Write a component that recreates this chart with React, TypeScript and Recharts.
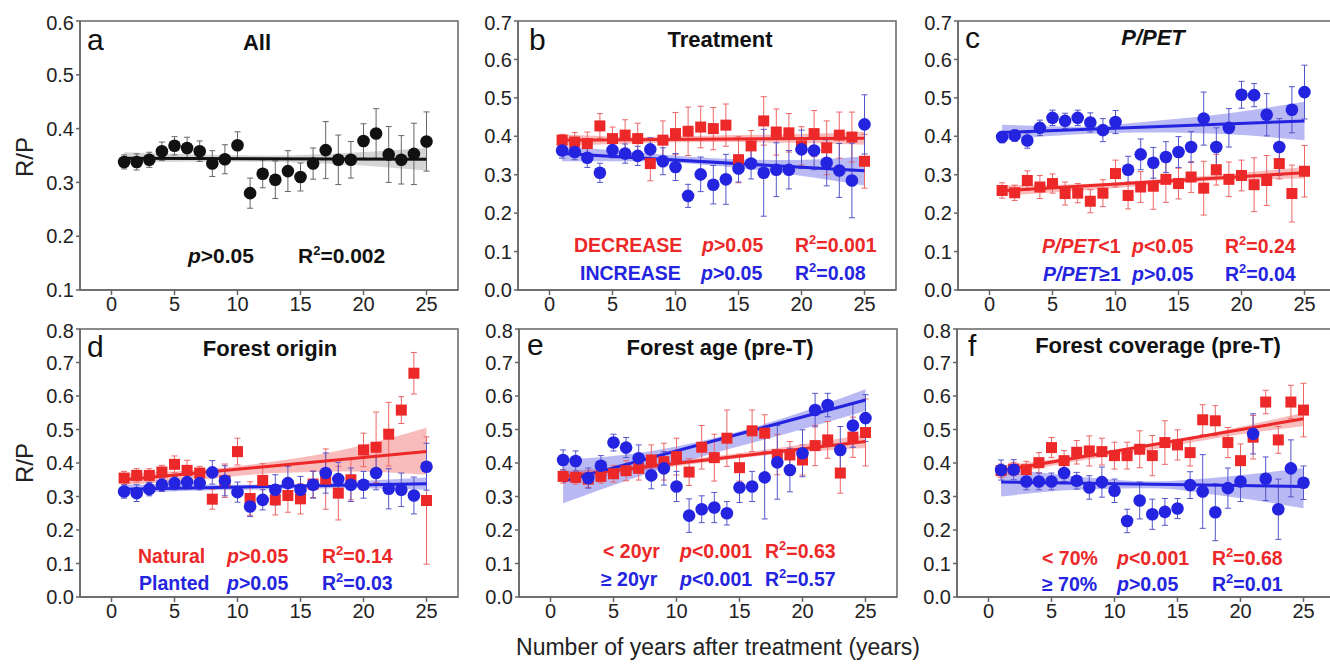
import {
  ComposedChart,
  Scatter,
  Line,
  Area,
  XAxis,
  YAxis,
  ErrorBar,
  ReferenceArea,
} from "recharts";

// years after treatment
const years = [1, 2, 3, 4, 5, 6, 7, 8, 9, 10, 11, 12, 13, 14, 15, 16, 17, 18, 19, 20, 21, 22, 23, 24, 25];
const xTicks = [0, 5, 10, 15, 20, 25];
const fitX = [1, 25];
const bandX = [1, 7, 13, 19, 25];

// a: All
const allMean = [0.338, 0.338, 0.342, 0.358, 0.368, 0.364, 0.358, 0.335, 0.343, 0.369, 0.28, 0.316, 0.305, 0.321, 0.31, 0.335, 0.36, 0.342, 0.342, 0.377, 0.391, 0.352, 0.342, 0.353, 0.376];
const allErr = [0.013, 0.015, 0.014, 0.017, 0.017, 0.02, 0.019, 0.024, 0.027, 0.025, 0.028, 0.026, 0.035, 0.038, 0.026, 0.029, 0.053, 0.046, 0.034, 0.032, 0.046, 0.052, 0.045, 0.057, 0.055];
const allFit = [0.345, 0.343];
const allLo = [0.336, 0.339, 0.338, 0.333, 0.322];
const allHi = [0.356, 0.352, 0.35, 0.355, 0.364];

// b: Treatment
const decMean = [0.39, 0.385, 0.381, 0.427, 0.394, 0.403, 0.394, 0.329, 0.39, 0.407, 0.413, 0.424, 0.42, 0.429, 0.339, 0.375, 0.44, 0.411, 0.409, 0.375, 0.407, 0.37, 0.403, 0.398, 0.335];
const decErr = [0.015, 0.025, 0.03, 0.032, 0.03, 0.04, 0.04, 0.045, 0.05, 0.055, 0.063, 0.054, 0.055, 0.055, 0.06, 0.04, 0.063, 0.06, 0.05, 0.05, 0.06, 0.07, 0.06, 0.065, 0.07];
const decFit = [0.39, 0.395];
const decLo = [0.375, 0.382, 0.385, 0.383, 0.378];
const decHi = [0.405, 0.398, 0.402, 0.405, 0.412];
const incMean = [0.363, 0.359, 0.344, 0.305, 0.364, 0.355, 0.349, 0.366, 0.335, 0.32, 0.245, 0.301, 0.274, 0.288, 0.316, 0.329, 0.305, 0.313, 0.313, 0.366, 0.363, 0.331, 0.311, 0.285, 0.431];
const incErr = [0.02, 0.02, 0.025, 0.025, 0.02, 0.025, 0.025, 0.03, 0.035, 0.035, 0.03, 0.045, 0.05, 0.065, 0.035, 0.04, 0.113, 0.07, 0.05, 0.05, 0.05, 0.06, 0.07, 0.097, 0.077];
const incFit = [0.355, 0.31];
const incLo = [0.335, 0.335, 0.324, 0.302, 0.272];
const incHi = [0.375, 0.358, 0.343, 0.338, 0.348];

// c: P/PET
const petLowMean = [0.259, 0.253, 0.285, 0.268, 0.277, 0.251, 0.252, 0.231, 0.252, 0.303, 0.246, 0.268, 0.27, 0.288, 0.277, 0.294, 0.265, 0.313, 0.288, 0.298, 0.274, 0.285, 0.329, 0.251, 0.309];
const petLowErr = [0.02, 0.02, 0.025, 0.03, 0.025, 0.03, 0.025, 0.03, 0.035, 0.035, 0.035, 0.04, 0.06, 0.06, 0.04, 0.04, 0.07, 0.04, 0.045, 0.04, 0.07, 0.065, 0.04, 0.074, 0.067];
const petLowFit = [0.258, 0.305];
const petLowLo = [0.245, 0.258, 0.273, 0.286, 0.29];
const petLowHi = [0.272, 0.275, 0.287, 0.302, 0.32];
const petHighMean = [0.398, 0.402, 0.389, 0.422, 0.448, 0.44, 0.448, 0.436, 0.416, 0.437, 0.313, 0.353, 0.331, 0.346, 0.359, 0.372, 0.446, 0.372, 0.422, 0.508, 0.507, 0.456, 0.372, 0.469, 0.515];
const petHighErr = [0.015, 0.015, 0.02, 0.02, 0.02, 0.02, 0.02, 0.025, 0.03, 0.03, 0.035, 0.04, 0.04, 0.04, 0.04, 0.04, 0.069, 0.05, 0.05, 0.035, 0.03, 0.055, 0.074, 0.06, 0.07];
const petHighFit = [0.41, 0.44];
const petHighLo = [0.39, 0.405, 0.41, 0.405, 0.39];
const petHighHi = [0.43, 0.425, 0.44, 0.46, 0.49];

// d: Forest origin
const natMean = [0.355, 0.363, 0.363, 0.373, 0.396, 0.378, 0.37, 0.292, 0.347, 0.434, 0.294, 0.348, 0.29, 0.303, 0.293, 0.337, 0.352, 0.31, 0.35, 0.439, 0.447, 0.486, 0.558, 0.668, 0.288];
const natErr = [0.02, 0.02, 0.02, 0.02, 0.025, 0.03, 0.02, 0.03, 0.05, 0.04, 0.05, 0.05, 0.045, 0.05, 0.045, 0.04, 0.09, 0.08, 0.06, 0.05, 0.105, 0.095, 0.04, 0.062, 0.19];
const natFit = [0.35, 0.434];
const natLo = [0.335, 0.35, 0.37, 0.375, 0.365];
const natHi = [0.37, 0.38, 0.405, 0.445, 0.505];
const plaMean = [0.315, 0.31, 0.322, 0.335, 0.34, 0.343, 0.34, 0.372, 0.347, 0.313, 0.27, 0.29, 0.32, 0.34, 0.32, 0.335, 0.37, 0.352, 0.335, 0.335, 0.37, 0.323, 0.32, 0.303, 0.389];
const plaErr = [0.02, 0.025, 0.02, 0.02, 0.02, 0.02, 0.02, 0.035, 0.045, 0.03, 0.03, 0.03, 0.045, 0.05, 0.04, 0.04, 0.06, 0.05, 0.05, 0.04, 0.05, 0.06, 0.05, 0.055, 0.07];
const plaFit = [0.322, 0.338];
const plaLo = [0.31, 0.318, 0.322, 0.325, 0.32];
const plaHi = [0.335, 0.335, 0.335, 0.345, 0.357];

// e: Forest age (pre-T)
const youngMean = [0.36, 0.357, 0.352, 0.36, 0.368, 0.377, 0.384, 0.409, 0.404, 0.419, 0.373, 0.447, 0.416, 0.474, 0.386, 0.496, 0.489, 0.425, 0.424, 0.409, 0.452, 0.469, 0.37, 0.477, 0.491];
const youngErr = [0.02, 0.02, 0.025, 0.02, 0.025, 0.03, 0.035, 0.045, 0.055, 0.055, 0.04, 0.065, 0.07, 0.084, 0.04, 0.062, 0.055, 0.06, 0.04, 0.045, 0.06, 0.055, 0.06, 0.06, 0.1];
const youngFit = [0.36, 0.464];
const youngLo = [0.345, 0.375, 0.405, 0.43, 0.445];
const youngHi = [0.375, 0.395, 0.42, 0.45, 0.485];
const oldMean = [0.409, 0.406, 0.355, 0.392, 0.461, 0.446, 0.414, 0.363, 0.384, 0.33, 0.243, 0.262, 0.267, 0.25, 0.327, 0.33, 0.357, 0.402, 0.379, 0.429, 0.558, 0.573, 0.439, 0.512, 0.534];
const oldErr = [0.03, 0.03, 0.03, 0.03, 0.025, 0.03, 0.04, 0.04, 0.05, 0.045, 0.05, 0.04, 0.045, 0.035, 0.045, 0.045, 0.124, 0.11, 0.065, 0.07, 0.05, 0.035, 0.07, 0.065, 0.07];
const oldFit = [0.345, 0.588];
const oldLo = [0.28, 0.36, 0.43, 0.49, 0.555];
const oldHi = [0.41, 0.43, 0.475, 0.54, 0.62];

// f: Forest coverage (pre-T)
const lowCovMean = [0.377, 0.382, 0.38, 0.401, 0.446, 0.407, 0.432, 0.436, 0.434, 0.422, 0.422, 0.441, 0.422, 0.461, 0.454, 0.431, 0.529, 0.526, 0.461, 0.407, 0.477, 0.582, 0.469, 0.582, 0.558];
const lowCovErr = [0.02, 0.02, 0.025, 0.03, 0.03, 0.03, 0.035, 0.045, 0.04, 0.04, 0.04, 0.055, 0.06, 0.065, 0.045, 0.04, 0.045, 0.045, 0.045, 0.05, 0.065, 0.035, 0.04, 0.05, 0.08];
const lowCovFit = [0.377, 0.532];
const lowCovLo = [0.362, 0.405, 0.44, 0.48, 0.51];
const lowCovHi = [0.392, 0.42, 0.455, 0.5, 0.55];
const highCovMean = [0.379, 0.38, 0.345, 0.345, 0.345, 0.37, 0.347, 0.327, 0.343, 0.317, 0.227, 0.288, 0.247, 0.254, 0.264, 0.334, 0.315, 0.253, 0.325, 0.345, 0.487, 0.353, 0.262, 0.384, 0.341];
const highCovErr = [0.03, 0.03, 0.025, 0.025, 0.025, 0.025, 0.025, 0.035, 0.045, 0.035, 0.035, 0.055, 0.045, 0.04, 0.03, 0.04, 0.11, 0.085, 0.06, 0.06, 0.06, 0.065, 0.09, 0.085, 0.05];
const highCovFit = [0.343, 0.33];
const highCovLo = [0.3, 0.32, 0.325, 0.3, 0.265];
const highCovHi = [0.385, 0.36, 0.345, 0.36, 0.385];

const RED = "#ec2828";
const BLUE = "#2424e0";
const FONT = "'Liberation Sans', Arial, sans-serif";

const pts = (vals: number[], errs: number[]) => years.map((x, i) => ({ x, y: vals[i], e: errs[i] }));
const band = (lo: number[], hi: number[]) => bandX.map((x, i) => ({ x, r: [lo[i], hi[i]] }));
const fit = (ends: number[]) => fitX.map((x, i) => ({ x, f: ends[i] }));

interface Group {
  color: string;
  errColor: string;
  bandFill: string;
  shape: "circle" | "square";
  points: { x: number; y: number; e: number }[];
  band: { x: number; r: number[] }[];
  fit: { x: number; f: number }[];
}

const grp = (
  color: string, errColor: string, bandFill: string, shape: "circle" | "square",
  mean: number[], err: number[], fitEnds: number[], lo: number[], hi: number[]
): Group => ({ color, errColor, bandFill, shape, points: pts(mean, err), band: band(lo, hi), fit: fit(fitEnds) });

const redGrp = (m: number[], e: number[], f: number[], lo: number[], hi: number[]) =>
  grp(RED, "#e66", "rgba(240,80,80,0.38)", "square", m, e, f, lo, hi);
const blueGrp = (m: number[], e: number[], f: number[], lo: number[], hi: number[]) =>
  grp(BLUE, "#55c", "rgba(70,70,225,0.38)", "circle", m, e, f, lo, hi);

const tickStyle = { fill: "#222", fontSize: 20, fontFamily: FONT };

function Panel({ left, top, h, domain, ticks, groups }: {
  left: number; top: number; h: number; domain: [number, number]; ticks: number[]; groups: Group[];
}) {
  return (
    <div style={{ position: "absolute", left: left - 60, top: top - 10 }}>
      <ComposedChart width={448} height={h + 10 + 36} margin={{ top: 10, right: 10, bottom: 0, left: 0 }}>
        <XAxis type="number" dataKey="x" domain={[-2.5, 27.5]} ticks={xTicks} allowDataOverflow
          height={36} tickSize={5} stroke="#666" strokeWidth={1.5} tick={tickStyle} />
        <YAxis type="number" domain={domain} ticks={ticks} allowDataOverflow width={60} tickSize={4}
          stroke="#666" strokeWidth={1.5} tick={tickStyle} tickFormatter={(v: number) => v.toFixed(1)} />
        {groups.map((g, i) => (
          <Scatter key={"s" + i} data={g.points} dataKey="y" isAnimationActive={false}
            shape={(p: any) => g.shape === "circle"
              ? <circle cx={p.cx} cy={p.cy} r={6.3} fill={g.color} />
              : <rect x={p.cx - 5.5} y={p.cy - 5.5} width={11} height={11} fill={g.color} />}>
            <ErrorBar dataKey="e" direction="y" width={3} stroke={g.errColor} strokeWidth={1} />
          </Scatter>
        ))}
        {groups.map((g, i) => (
          <Area key={"a" + i} data={g.band} dataKey="r" type="monotone" fill={g.bandFill} fillOpacity={1}
            stroke="none" isAnimationActive={false} activeDot={false} />
        ))}
        {groups.map((g, i) => (
          <Line key={"l" + i} data={g.fit} dataKey="f" stroke={g.color} strokeWidth={3} dot={false}
            activeDot={false} isAnimationActive={false} />
        ))}
        <ReferenceArea x1={-2.5} x2={27.5} y1={domain[0]} y2={domain[1]} fill="none" fillOpacity={0}
          stroke="#666" strokeWidth={1.5} />
      </ComposedChart>
    </div>
  );
}

function R2({ x, y, v }: { x: number; y: number; v: string }) {
  return (
    <text x={x} y={y}>
      R<tspan dy={-8} fontSize={13}>2</tspan><tspan dy={8}>={v}</tspan>
    </text>
  );
}

function Stat({ x, y, p }: { x: number; y: number; p: string }) {
  return (
    <text x={x} y={y}>
      <tspan fontStyle="italic">p</tspan>{p}
    </text>
  );
}

export default function App() {
  const row1 = [0.0, 0.1, 0.2, 0.3, 0.4, 0.5, 0.6, 0.7];
  const row2 = [0.0, 0.1, 0.2, 0.3, 0.4, 0.5, 0.6, 0.7, 0.8];
  return (
    <div style={{ position: "relative", width: 1330, height: 669, overflow: "hidden", background: "#fff", fontFamily: FONT }}>
      <style>{"body{margin:0}"}</style>
      <Panel left={80} top={21} h={269} domain={[0.1, 0.6]} ticks={[0.1, 0.2, 0.3, 0.4, 0.5, 0.6]}
        groups={[grp("#111", "#666", "rgba(150,150,150,0.4)", "circle", allMean, allErr, allFit, allLo, allHi)]} />
      <Panel left={518} top={21} h={269} domain={[0, 0.7]} ticks={row1}
        groups={[redGrp(decMean, decErr, decFit, decLo, decHi), blueGrp(incMean, incErr, incFit, incLo, incHi)]} />
      <Panel left={958} top={21} h={269} domain={[0, 0.7]} ticks={row1}
        groups={[redGrp(petLowMean, petLowErr, petLowFit, petLowLo, petLowHi), blueGrp(petHighMean, petHighErr, petHighFit, petHighLo, petHighHi)]} />
      <Panel left={80} top={329} h={268} domain={[0, 0.8]} ticks={row2}
        groups={[redGrp(natMean, natErr, natFit, natLo, natHi), blueGrp(plaMean, plaErr, plaFit, plaLo, plaHi)]} />
      <Panel left={519} top={329} h={268} domain={[0, 0.8]} ticks={row2}
        groups={[redGrp(youngMean, youngErr, youngFit, youngLo, youngHi), blueGrp(oldMean, oldErr, oldFit, oldLo, oldHi)]} />
      <Panel left={957} top={329} h={268} domain={[0, 0.8]} ticks={row2}
        groups={[redGrp(lowCovMean, lowCovErr, lowCovFit, lowCovLo, lowCovHi), blueGrp(highCovMean, highCovErr, highCovFit, highCovLo, highCovHi)]} />

      <svg width={1330} height={669} style={{ position: "absolute", left: 0, top: 0, pointerEvents: "none" }} fontFamily={FONT}>
        {/* panel letters */}
        <g fontSize={30} fill="#111">
          <text x={87} y={50}>a</text>
          <text x={529} y={50}>b</text>
          <text x={965} y={48}>c</text>
          <text x={87} y={357}>d</text>
          <text x={527} y={355}>e</text>
          <text x={968} y={356}>f</text>
        </g>
        {/* titles */}
        <g fontSize={22} fontWeight="bold" fill="#111" textAnchor="middle">
          <text x={257} y={50}>All</text>
          <text x={720} y={47}>Treatment</text>
          <text x={1153} y={45} fontStyle="italic">P/PET</text>
          <text x={270} y={356}>Forest origin</text>
          <text x={720} y={355}>Forest age (pre-T)</text>
          <text x={1158} y={353}>Forest coverage (pre-T)</text>
        </g>
        {/* axis titles */}
        <text x={0} y={0} fontSize={24} fill="#222" textAnchor="middle" transform="translate(33,157) rotate(-90)">R/P</text>
        <text x={0} y={0} fontSize={24} fill="#222" textAnchor="middle" transform="translate(33,463) rotate(-90)">R/P</text>
        <text x={718} y={655} fontSize={23} fill="#222" textAnchor="middle">Number of years after treatment (years)</text>

        {/* statistics */}
        <g fontSize={21} fontWeight="bold" fill="#111">
          <Stat x={188} y={263} p=">0.05" />
          <R2 x={298} y={263} v="0.002" />
        </g>
        <g fontSize={19.5} fontWeight="bold">
          <g fill={RED}>
            <text x={574} y={252}>DECREASE</text>
            <Stat x={702} y={252} p=">0.05" />
            <R2 x={795} y={252} v="0.001" />
            <text x={1042} y={253}><tspan fontStyle="italic">P/PET</tspan>&lt;1</text>
            <Stat x={1132} y={253} p="<0.05" />
            <R2 x={1225} y={253} v="0.24" />
            <text x={138} y={563}>Natural</text>
            <Stat x={227} y={563} p=">0.05" />
            <R2 x={322} y={563} v="0.14" />
            <text x={603} y={558}>&lt; 20yr</text>
            <Stat x={680} y={558} p="<0.001" />
            <R2 x={765} y={558} v="0.63" />
            <text x={1042} y={565}>&lt; 70%</text>
            <Stat x={1117} y={565} p="<0.001" />
            <R2 x={1212} y={565} v="0.68" />
          </g>
          <g fill={BLUE}>
            <text x={580} y={280}>INCREASE</text>
            <Stat x={701} y={280} p=">0.05" />
            <R2 x={795} y={280} v="0.08" />
            <text x={1043} y={281}><tspan fontStyle="italic">P/PET</tspan>≥1</text>
            <Stat x={1132} y={281} p=">0.05" />
            <R2 x={1225} y={281} v="0.04" />
            <text x={139} y={590}>Planted</text>
            <Stat x={227} y={590} p=">0.05" />
            <R2 x={322} y={590} v="0.03" />
            <text x={601} y={586}>≥ 20yr</text>
            <Stat x={680} y={586} p="<0.001" />
            <R2 x={765} y={586} v="0.57" />
            <text x={1042} y={591}>≥ 70%</text>
            <Stat x={1117} y={591} p=">0.05" />
            <R2 x={1212} y={591} v="0.01" />
          </g>
        </g>
      </svg>
    </div>
  );
}
